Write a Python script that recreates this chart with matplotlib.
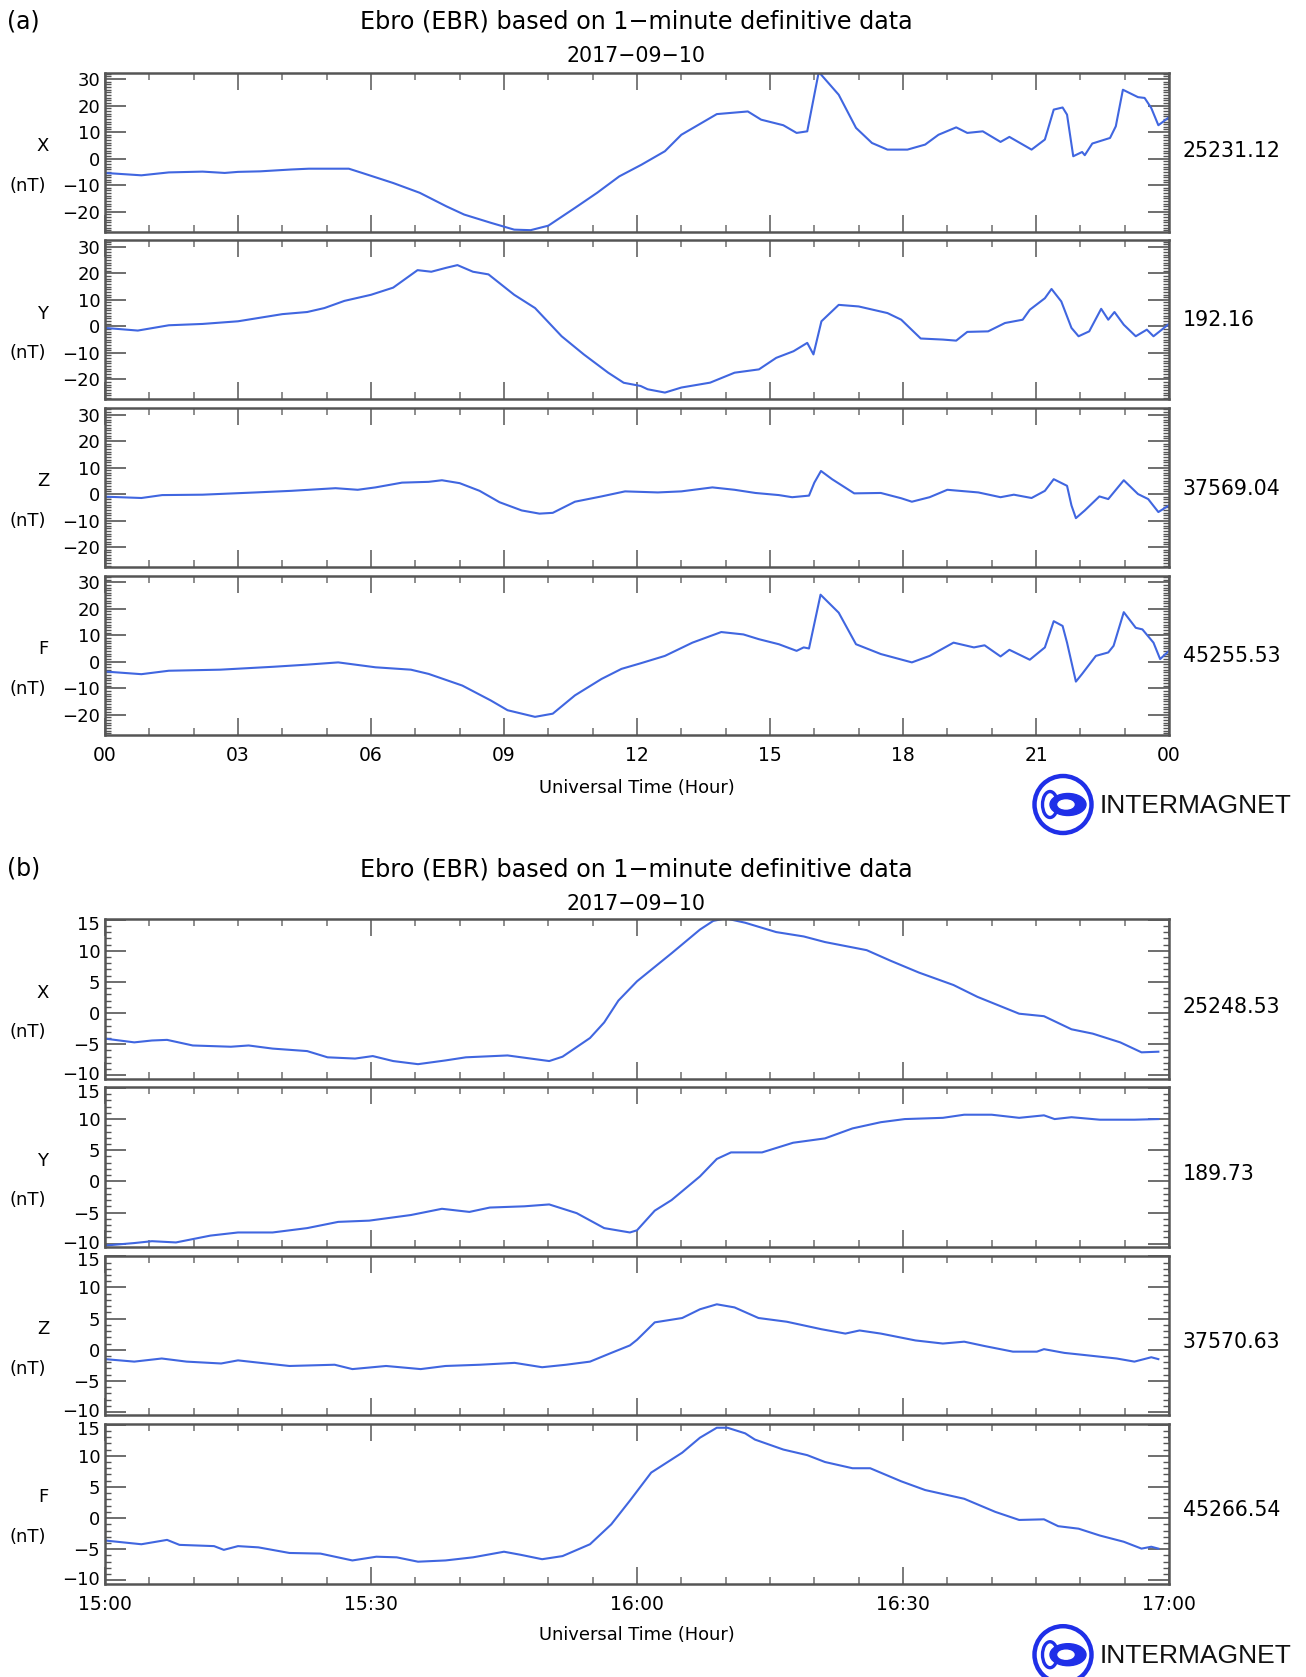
import matplotlib
matplotlib.use("Agg")
import matplotlib.pyplot as plt
from matplotlib.patches import Circle, Ellipse
from matplotlib.ticker import MultipleLocator, FixedLocator
from matplotlib.transforms import ScaledTranslation

# ---------------- data: panel (a), hours UT ----------------
A_X_T = [0, 0.82, 1.44, 2.2, 2.7, 3.0, 3.5, 4.2, 4.6, 5.5, 5.8, 6.5, 7.1, 7.7, 8.1, 8.7, 9.23, 9.6,
         10.0, 10.6, 11.1, 11.6, 12.1, 12.63, 13.0, 13.8, 14.5, 14.8, 15.3, 15.6, 15.84, 16.1, 16.55,
         16.94, 17.3, 17.65, 18.1, 18.5, 18.8, 19.2, 19.45, 19.8, 20.2, 20.4, 20.9, 21.2, 21.4, 21.6,
         21.7, 21.84, 22.04, 22.1, 22.27, 22.67, 22.8, 22.96, 23.3, 23.45, 23.6, 23.76, 24.0]
A_X_V = [-5.4, -6.3, -5.2, -4.9, -5.4, -5.0, -4.8, -4.1, -3.8, -3.8, -5.4, -9.2, -12.9, -18.0, -21.1,
         -24.2, -26.8, -27.0, -25.3, -18.6, -12.9, -6.7, -2.3, 2.8, 9.0, 16.8, 17.8, 14.7, 12.6, 9.7,
         10.3, 32.7, 24.1, 11.6, 5.9, 3.4, 3.4, 5.3, 9.0, 11.8, 9.7, 10.3, 6.3, 8.2, 3.4, 7.2, 18.5,
         19.3, 16.6, 0.9, 2.5, 1.3, 5.7, 7.8, 12.2, 26.0, 23.2, 22.9, 19.1, 12.6, 15.6]

A_Y_T = [0, 0.74, 1.44, 2.2, 3.0, 4.0, 4.56, 4.95, 5.4, 6.0, 6.5, 7.05, 7.36, 7.7, 7.95, 8.3, 8.65,
         9.23, 9.7, 10.3, 10.8, 11.35, 11.7, 12.08, 12.24, 12.63, 13.0, 13.65, 14.2, 14.75, 15.14,
         15.53, 15.84, 15.98, 16.16, 16.55, 17.0, 17.65, 17.96, 18.4, 18.9, 19.2, 19.45, 19.92,
         20.3, 20.7, 20.86, 21.2, 21.35, 21.57, 21.8, 21.96, 22.2, 22.47, 22.63, 22.77, 22.98,
         23.25, 23.5, 23.65, 24.0]
A_Y_V = [-0.6, -1.6, 0.4, 0.9, 1.9, 4.6, 5.4, 6.9, 9.6, 11.9, 14.6, 21.2, 20.6, 22.1, 23.1, 20.6,
         19.6, 11.9, 6.9, -3.75, -10.6, -17.5, -21.3, -22.5, -23.75, -25.0, -23.1, -21.25, -17.5,
         -16.25, -11.9, -9.4, -6.25, -10.6, 1.9, 8.1, 7.5, 5.0, 2.5, -4.6, -5.0, -5.4, -2.1, -1.9,
         1.25, 2.5, 6.25, 10.6, 14.1, 9.4, -0.6, -3.75, -1.9, 6.6, 2.5, 5.4, 0.6, -3.75, -1.25,
         -3.75, 0.9]

A_Z_T = [0, 0.82, 1.29, 2.2, 3.4, 4.2, 5.2, 5.7, 6.1, 6.7, 7.3, 7.6, 8.0, 8.45, 8.9, 9.4, 9.8,
         10.1, 10.6, 11.2, 11.73, 12.47, 13.0, 13.7, 14.2, 14.67, 15.2, 15.5, 15.88, 16.0, 16.15,
         16.4, 16.9, 17.5, 17.96, 18.2, 18.6, 19.0, 19.7, 20.2, 20.5, 20.9, 21.2, 21.4, 21.7,
         21.8, 21.9, 22.1, 22.43, 22.63, 22.98, 23.3, 23.53, 23.76, 24.0]
A_Z_V = [-1.0, -1.5, -0.4, -0.25, 0.6, 1.2, 2.2, 1.6, 2.5, 4.3, 4.6, 5.2, 4.1, 1.2, -3.1, -6.2,
         -7.4, -7.1, -2.9, -0.9, 1.0, 0.6, 1.0, 2.5, 1.6, 0.4, -0.4, -1.2, -0.6, 4.3, 8.7, 5.6,
         0.25, 0.4, -1.6, -2.9, -1.2, 1.6, 0.6, -1.2, -0.25, -1.5, 1.2, 5.6, 3.1, -4.3, -9.1,
         -6.2, -0.9, -1.9, 5.2, 0.0, -1.9, -6.8, -4.3]

A_F_T = [0, 0.82, 1.44, 2.6, 3.8, 4.56, 5.26, 6.1, 6.9, 7.3, 8.06, 8.7, 9.08, 9.7, 10.1, 10.6,
         11.2, 11.65, 12.08, 12.63, 13.25, 13.9, 14.4, 14.75, 15.2, 15.6, 15.76, 15.88, 16.14,
         16.55, 16.94, 17.5, 18.2, 18.6, 19.14, 19.6, 19.84, 20.2, 20.4, 20.86, 21.2, 21.4, 21.6,
         21.7, 21.9, 22.04, 22.35, 22.63, 22.75, 22.98, 23.25, 23.4, 23.65, 23.8, 24.0]
A_F_V = [-3.7, -4.7, -3.4, -3.0, -1.9, -1.1, -0.25, -2.1, -3.0, -4.6, -9.0, -14.6, -18.3, -20.8,
         -19.6, -12.7, -6.5, -2.7, -0.6, 2.2, 7.2, 11.2, 10.3, 8.5, 6.6, 4.1, 5.4, 5.0, 25.3, 18.5,
         6.6, 2.9, -0.25, 2.2, 7.2, 5.4, 6.2, 2.0, 4.5, 0.75, 5.4, 15.3, 13.5, 7.2, -7.5, -4.6,
         2.2, 3.5, 6.0, 18.7, 12.8, 12.2, 7.2, 1.0, 4.1]

# ---------------- data: panel (b), minutes after 15:00 UT ----------------
B_X_T = [0, 3.3, 5.3, 7, 9.9, 14.2, 16.2, 18.9, 22.8, 25.1, 28.2, 30.2, 32.5, 35.3, 38.4, 40.7,
         45.4, 50.1, 51.6, 54.7, 56.3, 57.9, 60, 63.9, 67.1, 68.6, 70, 72.2, 75.7, 78.8, 81.2,
         85.9, 88.6, 91.8, 95.7, 98.4, 103.1, 105.9, 109, 111.4, 114.5, 116.9, 118.8]
B_X_V = [-4.1, -4.7, -4.4, -4.3, -5.2, -5.4, -5.2, -5.7, -6.1, -7.1, -7.3, -6.9, -7.7, -8.2, -7.6,
         -7.1, -6.8, -7.7, -7.0, -4.0, -1.5, 2.0, 5.1, 9.6, 13.4, 14.8, 15.2, 14.5, 13.0, 12.3,
         11.4, 10.1, 8.4, 6.5, 4.5, 2.6, -0.1, -0.5, -2.6, -3.3, -4.7, -6.3, -6.2]

B_Y_T = [0, 3.3, 5.3, 8, 11.9, 15, 18.9, 22.8, 26.3, 29.8, 34.5, 38, 41.1, 43.4, 47.3, 50.1, 53.2,
         56.3, 59.2, 60, 62, 63.9, 67.1, 69, 70.6, 74.1, 77.6, 81.2, 84.3, 87.5, 90.2, 94.5, 96.9,
         100, 103.1, 105.9, 107.1, 109, 112.2, 116.1, 118.8]
B_Y_V = [-10.3, -9.9, -9.6, -9.8, -8.7, -8.2, -8.2, -7.5, -6.5, -6.3, -5.4, -4.4, -4.9, -4.2,
         -4.0, -3.7, -5.1, -7.5, -8.2, -7.85, -4.7, -3.0, 0.8, 3.6, 4.65, 4.65, 6.2, 6.9, 8.5,
         9.5, 10.0, 10.2, 10.7, 10.7, 10.2, 10.6, 10.0, 10.3, 9.9, 9.9, 10.0]

B_Z_T = [0, 3.3, 6.4, 9.2, 13.1, 15, 16.9, 20.8, 25.9, 27.9, 31.7, 35.6, 38.4, 42.3, 46.2, 49.3,
         52, 54.7, 57.1, 59.2, 60, 62, 65.1, 67.1, 69, 71, 73.7, 76.9, 80.8, 83.5, 85.1, 87.5,
         91.4, 94.5, 96.9, 99.2, 102.4, 105.1, 105.9, 108.2, 110.2, 114.1, 116.1, 118, 118.8]
B_Z_V = [-1.5, -1.9, -1.4, -1.9, -2.2, -1.7, -2.0, -2.6, -2.4, -3.1, -2.6, -3.1, -2.6, -2.4,
         -2.1, -2.8, -2.4, -1.9, -0.5, 0.7, 1.6, 4.4, 5.1, 6.5, 7.3, 6.8, 5.1, 4.5, 3.3, 2.6, 3.1,
         2.6, 1.5, 1.0, 1.3, 0.6, -0.3, -0.3, 0.1, -0.5, -0.8, -1.4, -1.9, -1.2, -1.5]

B_F_T = [0, 4.1, 7, 8.4, 12.3, 13.4, 15, 17.3, 20.8, 24.3, 27.9, 30.6, 32.9, 35.3, 38.4, 41.5,
         45, 46.9, 49.3, 51.6, 54.7, 57.1, 59.2, 61.6, 65.1, 67.1, 69, 70.2, 72.2, 73.3, 76.5,
         79.2, 81.2, 84.3, 86.3, 89.8, 92.5, 96.9, 100.4, 103.1, 105.9, 107.5, 109.8, 112.2,
         114.9, 116.9, 118, 118.8]
B_F_V = [-3.6, -4.2, -3.5, -4.3, -4.5, -5.1, -4.5, -4.7, -5.6, -5.7, -6.8, -6.2, -6.3, -7.0, -6.8,
         -6.3, -5.4, -5.9, -6.6, -6.1, -4.2, -1.0, 2.8, 7.3, 10.5, 12.9, 14.5, 14.5, 13.6, 12.6,
         11.0, 10.1, 9.0, 8.0, 8.0, 5.9, 4.5, 3.1, 1.0, -0.3, -0.2, -1.3, -1.7, -2.8, -3.8, -4.9,
         -4.6, -4.9]

COMPONENTS = ["X", "Y", "Z", "F"]
A_BASELINES = ["25231.12", "192.16", "37569.04", "45255.53"]
B_BASELINES = ["25248.53", "189.73", "37570.63", "45266.54"]
A_XTICKS = [0, 3, 6, 9, 12, 15, 18, 21, 24]
A_XTICK_LABELS = ["00", "03", "06", "09", "12", "15", "18", "21", "00"]
B_XTICKS = [0, 30, 60, 90, 120]
B_XTICK_LABELS = ["15:00", "15:30", "16:00", "16:30", "17:00"]
A_YTICKS = [-20, -10, 0, 10, 20, 30]
B_YTICKS = [-10, -5, 0, 5, 10, 15]
TITLE = "Ebro (EBR) based on 1\u2212minute definitive data"
DATE = "2017\u221209\u221210"
XLABEL = "Universal Time (Hour)"

# ---------------- layout ----------------
W, H = 1306, 1677
fig = plt.figure(figsize=(W / 100, H / 100), dpi=100)
plt.rcParams["font.family"] = ["DejaVu Sans"]

LINE_C = "#4066e0"
FRAME_C = "#555555"
AX_L, AX_R = 105, 1169


def make_axes(top, h):
    return fig.add_axes([AX_L / W, 1 - (top + h) / H, (AX_R - AX_L) / W, h / H])


def fmt(v):
    return str(v).replace("-", "\u2212")


def style_axes(ax, xlim, ylim, xticks, xmin_, yticks, ymin_, xlabels, show_x, nudge):
    ax.set_xlim(*xlim)
    ax.set_ylim(*ylim)
    for s in ax.spines.values():
        s.set_color(FRAME_C)
        s.set_linewidth(1.8)
    ax.xaxis.set_major_locator(FixedLocator(xticks))
    ax.xaxis.set_minor_locator(MultipleLocator(xmin_))
    ax.yaxis.set_major_locator(FixedLocator(yticks))
    ax.yaxis.set_minor_locator(MultipleLocator(ymin_))
    ax.tick_params(axis="x", which="major", direction="in", length=12, width=1.4,
                   color="#7a7a7a", top=True, bottom=True, pad=8, labelsize=13.5)
    ax.tick_params(axis="x", which="minor", direction="in", length=5, width=1.2,
                   color="#7a7a7a", top=True, bottom=True)
    ax.tick_params(axis="y", which="major", direction="in", length=15, width=1.2,
                   color="#555555", left=True, right=True, pad=3.5, labelsize=13)
    ax.tick_params(axis="y", which="minor", direction="in", length=4.5, width=1.0,
                   color="#555555", left=True, right=True)
    if show_x:
        ax.set_xticklabels(xlabels)
    else:
        ax.set_xticklabels([])
    ax.set_yticklabels([fmt(v) for v in yticks])
    if nudge:
        labs = ax.get_yticklabels()
        labs[-1].set_transform(labs[-1].get_transform() +
                               ScaledTranslation(0, -3 / 100, fig.dpi_scale_trans))
        labs[0].set_transform(labs[0].get_transform() +
                              ScaledTranslation(0, 2 / 100, fig.dpi_scale_trans))
    ax.set_facecolor("white")


# overlay for free text and the logo (pixel coordinates)
ov = fig.add_axes([0, 0, 1, 1], zorder=5)
ov.set_xlim(0, W)
ov.set_ylim(H, 0)
ov.axis("off")


def logo(cy):
    cx = 1063
    blue = "#1f2fe8"
    ov.add_patch(Circle((cx, cy), 28.5, fill=False, ec=blue, lw=3.2))
    ov.add_patch(Ellipse((cx - 13, cy), 15, 26, fill=False, ec=blue, lw=2.4))
    ov.add_patch(Ellipse((cx + 5, cy), 36, 22, fc=blue, ec=blue))
    ov.add_patch(Ellipse((cx + 3, cy), 16, 9, fc="white", ec="white"))
    ov.text(1100, cy + 1, "INTERMAGNET", ha="left", va="center", fontsize=19,
            family=["Liberation Sans", "DejaVu Sans"], color="#111111")


panels = [
    dict(tag="(a)", tag_y=21.5, title_y=21.5, date_y=55.5, tops=[72.5, 240.2, 407.9, 575.6], h=159,
         series=[(A_X_T, A_X_V), (A_Y_T, A_Y_V), (A_Z_T, A_Z_V), (A_F_T, A_F_V)],
         xlim=(0, 24), ylim=(-27.5, 32.5), xticks=A_XTICKS, xmin=1, yticks=A_YTICKS, ymin=1,
         xlabels=A_XTICK_LABELS, base=A_BASELINES, base_y=[150.8, 319.8, 488.8, 655.7],
         xlabel_y=788.3, logo_y=804.5, nudge=False),
    dict(tag="(b)", tag_y=868.5, title_y=869.6, date_y=903.8, tops=[919, 1087.3, 1255.7, 1424], h=159.5,
         series=[(B_X_T, B_X_V), (B_Y_T, B_Y_V), (B_Z_T, B_Z_V), (B_F_T, B_F_V)],
         xlim=(0, 120), ylim=(-10.5, 15.1), xticks=B_XTICKS, xmin=5, yticks=B_YTICKS, ymin=1,
         xlabels=B_XTICK_LABELS, base=B_BASELINES, base_y=[1006.5, 1174.4, 1342.4, 1510.3],
         xlabel_y=1635.4, logo_y=1654.7, nudge=True),
]

for p in panels:
    ov.text(23.5, p["tag_y"], p["tag"], ha="center", va="center", fontsize=17)
    ov.text(636.5, p["title_y"], TITLE, ha="center", va="center", fontsize=17.2)
    ov.text(636.5, p["date_y"], DATE, ha="center", va="center", fontsize=14.8)
    for i, (comp, top) in enumerate(zip(COMPONENTS, p["tops"])):
        ax = make_axes(top, p["h"])
        t, v = p["series"][i]
        ax.plot(t, v, color=LINE_C, lw=1.5, clip_on=True)
        style_axes(ax, p["xlim"], p["ylim"], p["xticks"], p["xmin"], p["yticks"], p["ymin"],
                   p["xlabels"], show_x=(i == 3), nudge=p["nudge"])
        ov.text(43, top + 73.5, comp, ha="center", va="center", fontsize=13)
        ov.text(28, top + 113, "(nT)", ha="center", va="center", fontsize=13)
        ov.text(1183, p["base_y"][i], p["base"][i], ha="left", va="center", fontsize=14.8)
    ov.text(636.5, p["xlabel_y"], XLABEL, ha="center", va="center", fontsize=12.9)
    logo(p["logo_y"])

fig.savefig("out.png", dpi=100)
